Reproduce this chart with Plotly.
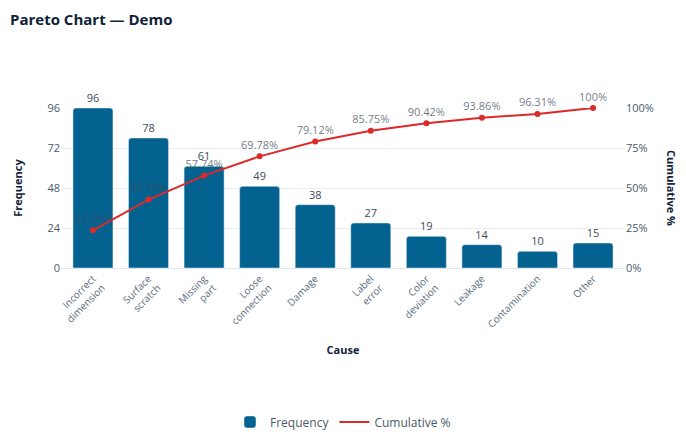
import plotly.graph_objects as go

# Pareto data
causes = ['Incorrect<br>dimension', 'Surface<br>scratch', 'Missing<br>part', 'Loose<br>connection',
          'Damage', 'Label<br>error', 'Color<br>deviation', 'Leakage', 'Contamination', 'Other']
frequency = [96, 78, 61, 49, 38, 27, 19, 14, 10, 15]
cumulative_pct = [23.59, 42.75, 57.74, 69.78, 79.12, 85.75, 90.42, 93.86, 96.31, 100]
cum_labels = ['23.59%', '42.75%', '57.74%', '69.78%', '79.12%', '85.75%', '90.42%', '93.86%', '96.31%', '100%']
pct_ticks = [0, 25, 50, 75, 100]

font_family = "Open Sans, Noto Sans, sans-serif"
red = '#dc2a2a'

fig = go.Figure()

fig.add_trace(go.Bar(
    x=causes, y=frequency, name='Frequency',
    marker=dict(color='#03628f'),
    width=0.72,
    text=frequency, textposition='outside',
    textfont=dict(color='#3d4b5c', size=11),
    cliponaxis=False,
))

fig.add_trace(go.Scatter(
    x=causes, y=cumulative_pct, name='Cumulative %', yaxis='y2',
    mode='lines+markers+text',
    line=dict(color=red, width=2),
    marker=dict(color=red, size=6),
    text=cum_labels, textposition='top center',
    textfont=dict(color='rgba(61,75,92,0.75)', size=11),
    cliponaxis=False, showlegend=False,
))

# legend entry shows only the line, no marker
fig.add_trace(go.Scatter(
    x=[None], y=[None], name='Cumulative %', yaxis='y2',
    mode='lines', line=dict(color=red, width=2),
))

fig.update_layout(
    width=670, height=425,
    plot_bgcolor='white', paper_bgcolor='white',
    font=dict(family=font_family, color='#4a5a6a', size=11),
    title=dict(text='<b>Pareto Chart — Demo</b>', x=0.003, xanchor='left',
               yref='container', y=0.972, yanchor='middle',
               font=dict(size=15, color='#0f2238')),
    margin=dict(l=53, r=53, t=100, b=165),
    barcornerradius=3,
    showlegend=True,
    legend=dict(orientation='h', x=0.5, xanchor='center',
                yref='container', y=0.026, yanchor='middle',
                font=dict(size=12, color='#4a5a6a')),
    xaxis=dict(
        title=dict(text='<b>Cause</b>', font=dict(size=11, color='#0f2238'), standoff=16),
        tickangle=-45, tickfont=dict(size=10, color='#5a6b7c'), automargin=False,
        showline=True, linecolor='#dde6ee', linewidth=1,
    ),
    yaxis=dict(
        title=dict(text='<b>Frequency</b>', font=dict(size=11, color='#0f2238'), standoff=22),
        range=[0, 96], tickvals=[0, 24, 48, 72, 96], automargin=False,
        gridcolor='#e8eef3', zeroline=False, tickfont=dict(size=11),
    ),
    yaxis2=dict(
        overlaying='y', side='right', range=[0, 100], automargin=False,
        tickvals=pct_ticks, ticktext=[f'{v}%' for v in pct_ticks],
        showgrid=False, zeroline=False, tickfont=dict(size=11),
    ),
    annotations=[dict(
        text='<b>Cumulative %</b>', textangle=90, xref='paper', yref='paper',
        x=1.10, y=0.5, showarrow=False, font=dict(size=11, color='#0f2238'),
    )],
)

fig.write_html("out.html")
